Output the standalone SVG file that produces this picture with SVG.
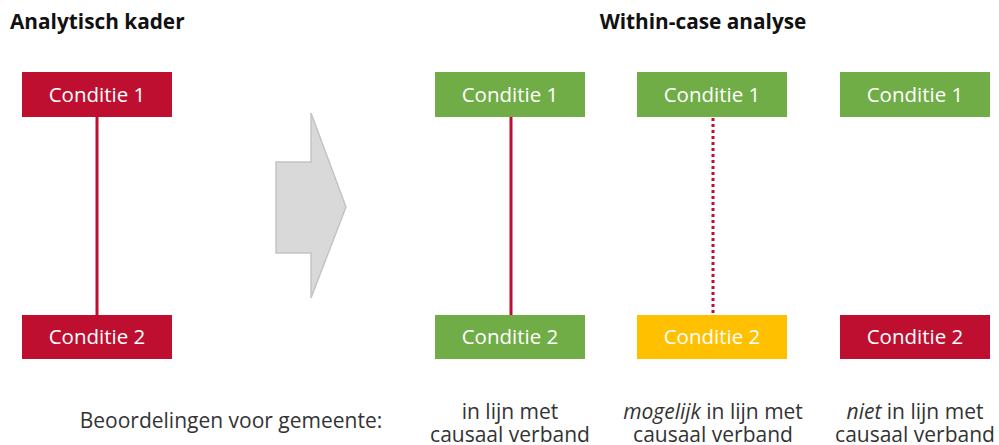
<svg xmlns="http://www.w3.org/2000/svg" width="999" height="445" viewBox="0 0 999 445">
<style>
.title{font-family:"Open Sans","Liberation Sans",sans-serif;font-weight:bold;font-size:20.8px;fill:#111}
.bt{font-family:"Open Sans","Liberation Sans",sans-serif;font-size:20.5px;fill:#ffffff;text-anchor:middle}
.lab{font-family:"Open Sans","Liberation Sans",sans-serif;font-size:21px;fill:#333;text-anchor:middle}
.red{fill:#be0f30}
.green{fill:#70ad47}
.yellow{fill:#ffc000}
.link{stroke:#be0f30;stroke-width:3;fill:none}
</style>
<rect width="999" height="445" fill="#ffffff"/>
<text class="title" x="10" y="29">Analytisch kader</text>
<text class="title" x="703" y="29" text-anchor="middle">Within-case analyse</text>
<g id="connectors">
<line class="link" x1="97" y1="116" x2="97" y2="316"/>
<line class="link" x1="511" y1="116" x2="511" y2="316"/>
<line class="link" x1="713" y1="118" x2="713" y2="316" stroke-dasharray="3 3"/>
</g>
<g id="arrow">
<polygon points="276,162 311,162 311,113 346,207 311,298 311,253 276,253" fill="#d9d9d9" stroke="#c4c4c4" stroke-width="1.5"/>
</g>
<g id="k1"><rect class="red" x="22" y="72" width="150" height="45"/><text class="bt" x="97" y="102">Conditie 1</text></g>
<g id="k2"><rect class="red" x="22" y="315" width="150" height="44"/><text class="bt" x="97" y="344">Conditie 2</text></g>
<g id="a1"><rect class="green" x="435" y="72" width="150" height="45"/><text class="bt" x="510" y="102">Conditie 1</text></g>
<g id="a2"><rect class="green" x="435" y="315" width="150" height="44"/><text class="bt" x="510" y="344">Conditie 2</text></g>
<g id="b1"><rect class="green" x="637" y="72" width="150" height="45"/><text class="bt" x="712" y="102">Conditie 1</text></g>
<g id="b2"><rect class="yellow" x="637" y="315" width="150" height="44"/><text class="bt" x="712" y="344">Conditie 2</text></g>
<g id="c1"><rect class="green" x="840" y="72" width="150" height="45"/><text class="bt" x="915" y="102">Conditie 1</text></g>
<g id="c2"><rect class="red" x="840" y="315" width="150" height="44"/><text class="bt" x="915" y="344">Conditie 2</text></g>
<text class="lab" x="231" y="428">Beoordelingen voor gemeente:</text>
<text class="lab" x="510" y="419">in lijn met</text>
<text class="lab" x="510" y="442">causaal verband</text>
<text class="lab" x="713" y="419"><tspan font-style="italic">mogelijk</tspan> in lijn met</text>
<text class="lab" x="713" y="442">causaal verband</text>
<text class="lab" x="915" y="419"><tspan font-style="italic">niet</tspan> in lijn met</text>
<text class="lab" x="915" y="442">causaal verband</text>
</svg>
